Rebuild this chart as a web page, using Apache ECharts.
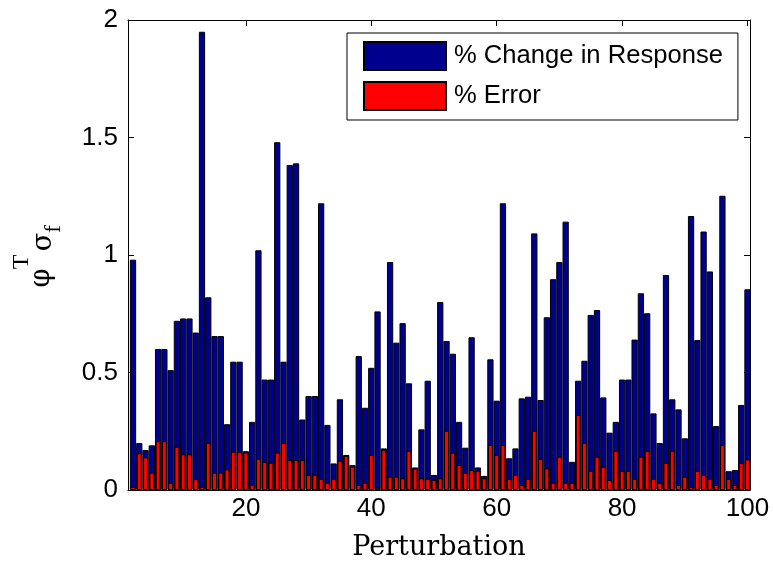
<!DOCTYPE html>
<html>
<head>
<meta charset="utf-8">
<script src="https://cdn.jsdelivr.net/npm/echarts@6/dist/echarts.min.js"></script>
<style>
html,body{margin:0;padding:0;background:#fff;}
#chart{width:773px;height:570px;}
</style>
</head>
<body>
<div id="chart"></div>
<script>
// Perturbation indices 1..100 (bar 1 lies almost entirely left of the visible x range)
var perturbations = [1,2,3,4,5,6,7,8,9,10,11,12,13,14,15,16,17,18,19,20,
21,22,23,24,25,26,27,28,29,30,31,32,33,34,35,36,37,38,39,40,
41,42,43,44,45,46,47,48,49,50,51,52,53,54,55,56,57,58,59,60,
61,62,63,64,65,66,67,68,69,70,71,72,73,74,75,76,77,78,79,80,
81,82,83,84,85,86,87,88,89,90,91,92,93,94,95,96,97,98,99,100];

var changeInResponse = [
null,0.98,0.20,0.17,0.19,0.60,0.60,0.51,0.72,0.73,
0.73,0.67,1.95,0.82,0.655,0.655,0.28,0.546,0.546,0.165,
0.29,1.02,0.47,0.47,1.48,0.546,1.383,1.39,0.30,0.40,
0.40,1.22,0.277,0.113,0.386,0.149,0.106,0.57,0.35,0.52,
0.76,0.177,0.97,0.627,0.71,0.454,0.096,0.258,0.465,0.064,
0.80,0.634,0.58,0.29,0.18,0.65,0.096,0.06,0.556,0.38,
1.22,0.135,0.177,0.39,0.397,1.092,0.383,0.735,0.897,0.97,
1.142,0.12,0.465,0.55,0.745,0.766,0.394,0.244,0.29,0.47,
0.47,0.64,0.837,0.752,0.326,0.2,0.915,0.386,0.343,0.22,
1.166,0.638,1.10,0.93,0.272,1.252,0.08,0.085,0.362,0.854];

var percentError = [
null,0.014,0.156,0.139,0.074,0.208,0.208,0.031,0.184,0.152,
0.152,0.046,0.014,0.201,0.074,0.074,0.088,0.163,0.163,0.16,
0.021,0.133,0.119,0.116,0.159,0.201,0.128,0.128,0.128,0.065,
0.065,0.048,0.031,0.048,0.125,0.145,0.10,0.021,0.031,0.149,
0.01,0.17,0.057,0.057,0.05,0.167,0.09,0.05,0.048,0.043,
0.05,0.252,0.159,0.106,0.074,0.085,0.082,0.05,0.191,0.149,
0.191,0.048,0.064,0.021,0.048,0.252,0.133,0.092,0.031,0.142,
0.031,0.031,0.319,0.201,0.082,0.142,0.099,0.043,0.167,0.082,
0.082,0.048,0.142,0.167,0.048,0.031,0.116,0.167,0.021,0.057,
0.014,0.082,0.064,0.048,0.021,0.191,0.048,0.021,0.116,0.13];

var xTickValues = [20,40,60,80,100];
var yTickValues = [0,0.5,1,1.5,2];
var seriesNames = ['% Change in Response','% Error'];
var xAxisTitle = 'Perturbation';

function pairs(xs, ys){
  var out = [];
  xs.forEach(function(x,i){ if (ys[i] !== null) out.push([x, ys[i]]); });
  return out;
}

var sansFont = 'Liberation Sans';
var chart = echarts.init(document.getElementById('chart'), null, {renderer:'canvas'});

var xCommon = {
  type:'value', min:1.2, max:100.4,
  splitLine:{show:false},
  axisLine:{show:true, onZero:false, lineStyle:{color:'#000', width:1}},
  axisTick:{show:true, inside:true, length:6, customValues:xTickValues, lineStyle:{color:'#000'}}
};
var yCommon = {
  type:'value', min:0, max:2, interval:0.5,
  splitLine:{show:false},
  axisLine:{show:true, lineStyle:{color:'#000', width:1}},
  axisTick:{show:true, inside:true, length:6, lineStyle:{color:'#000'}}
};

var option = {
  backgroundColor:'#fff',
  animation:false,
  grid:{left:128, right:23, top:20, bottom:80, containLabel:false},
  legend:{
    orient:'vertical', left:347, top:33,
    itemWidth:82, itemHeight:28, itemGap:10,
    padding:[8,15,9,16],
    borderColor:'#000', borderWidth:1, backgroundColor:'#fff',
    icon:'rect',
    textStyle:{fontFamily:sansFont, fontSize:25.6, color:'#000', padding:[0,0,0,3]},
    data:seriesNames
  },
  xAxis:[
    Object.assign({}, xCommon, {
      position:'bottom',
      axisLabel:{show:true, customValues:xTickValues, margin:6, color:'#000', fontFamily:sansFont, fontSize:26},
      name:xAxisTitle, nameLocation:'middle', nameGap:44,
      nameTextStyle:{fontFamily:'DejaVu Serif', fontSize:27, color:'#000'}
    }),
    Object.assign({}, xCommon, {
      position:'top',
      axisLabel:{show:false}
    })
  ],
  yAxis:[
    Object.assign({}, yCommon, {
      position:'left',
      axisLabel:{show:true, margin:10, color:'#000', fontFamily:sansFont, fontSize:26,
        formatter:function(v){ return String(v); }}
    }),
    Object.assign({}, yCommon, {
      position:'right',
      axisLabel:{show:false}
    })
  ],
  series:[
    {
      name:seriesNames[0], type:'bar', xAxisIndex:0, yAxisIndex:0,
      barWidth:6.27, clip:true,
      itemStyle:{color:'#00008F', borderColor:'#000', borderWidth:1},
      data:pairs(perturbations, changeInResponse)
    },
    {
      name:seriesNames[1], type:'bar', xAxisIndex:1, yAxisIndex:0,
      barWidth:5, clip:true,
      itemStyle:{color:'#FF0000', borderColor:'#000', borderWidth:1},
      data:pairs(perturbations, percentError)
    }
  ],
  graphic:[
    {type:'text', x:42, y:278, rotation:Math.PI/2,
     style:{text:'φ', font:'27px "DejaVu Serif"', fill:'#000', textAlign:'center', textVerticalAlign:'middle'}},
    {type:'text', x:22, y:262, rotation:Math.PI/2,
     style:{text:'T', font:'24px "Liberation Serif"', fill:'#000', textAlign:'center', textVerticalAlign:'middle'}},
    {type:'text', x:44, y:242, rotation:Math.PI/2,
     style:{text:'σ', font:'27px "DejaVu Serif"', fill:'#000', textAlign:'center', textVerticalAlign:'middle'}},
    {type:'text', x:54, y:229, rotation:Math.PI/2,
     style:{text:'f', font:'24px "Liberation Serif"', fill:'#000', textAlign:'center', textVerticalAlign:'middle'}}
  ]
};
chart.setOption(option);
</script>
</body>
</html>
